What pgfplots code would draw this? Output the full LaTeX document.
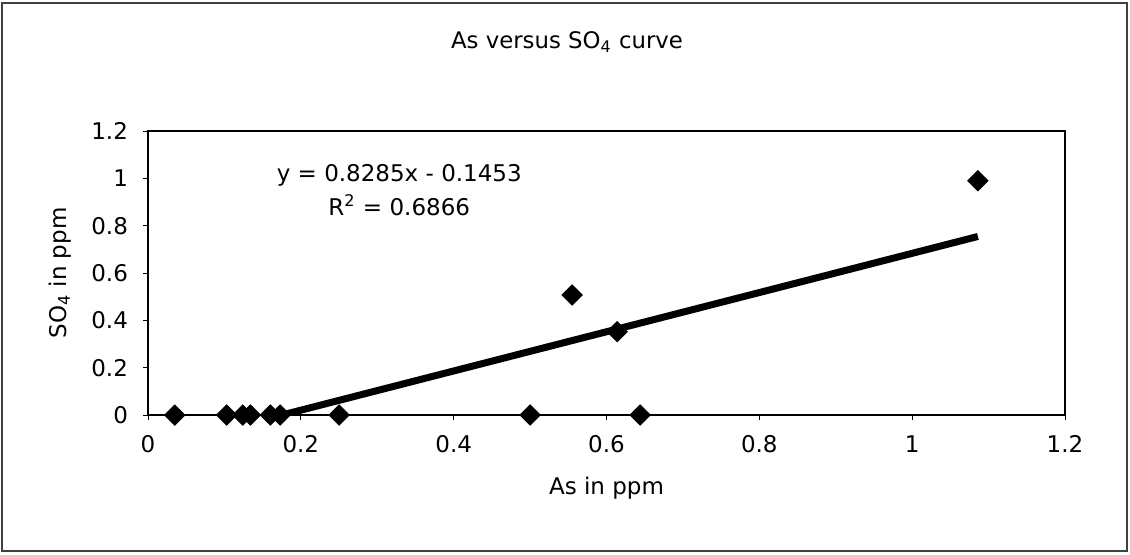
\documentclass[border=0pt]{standalone}
\usepackage{pgfplots}
\pgfplotsset{compat=1.18}
\usepackage{fontspec}
\setmainfont{DejaVu Sans}
\begin{document}
\begin{tikzpicture}
\path[use as bounding box] (0,0) rectangle (565pt,277pt);
\draw[black!75, line width=0.7pt] (1pt,1.5pt) rectangle (563.5pt,275.5pt);
\node[font=\fontsize{11.4}{13}\selectfont] at (283.5pt,256pt) {As versus SO\textsubscript{4} curve};
\begin{axis}[
  at={(74pt,69.5pt)}, anchor=south west,
  scale only axis, width=458.5pt, height=142pt,
  xmin=0, xmax=1.2, ymin=0, ymax=1.2,
  xtick={0,0.2,0.4,0.6,0.8,1,1.2},
  ytick={0,0.2,0.4,0.6,0.8,1,1.2},
  tick pos=left,
  tick align=outside, major tick length=2.5pt,
  tick style={black, line width=0.5pt},
  axis line style={line width=1pt},
  /pgf/number format/assume math mode=true,
  ticklabel style={font=\fontsize{11.5}{13}\selectfont, text height=8.5pt, text depth=0pt},
  xticklabel style={yshift=-4pt},
  yticklabel style={xshift=-4pt},
  label style={font=\fontsize{11.5}{13}\selectfont},
  xlabel={As in ppm},
  ylabel={SO\textsubscript{4} in ppm},
  xlabel style={at={(axis description cs:0.5,-0.257)}, anchor=center},
  ylabel style={at={(axis description cs:-0.096,0.5)}, anchor=center},
  clip=true,
]
\addplot[black, line width=3.5pt, no marks] coordinates {(0.035,-0.1163) (1.086,0.7544)};
\addplot[only marks, mark=square*, mark size=3.6pt, mark options={rotate=45, fill=black, draw=black}] coordinates {
(0.035,0) (0.103,0) (0.124,0) (0.134,0) (0.160,0) (0.173,0) (0.250,0) (0.500,0)
(0.555,0.507) (0.614,0.352) (0.644,0) (1.086,0.99)
};
\node[align=center, font=\fontsize{11.5}{17}\selectfont] at (axis description cs:0.274,0.792) {y = 0.8285x - 0.1453\\R\textsuperscript{2} = 0.6866};
\end{axis}
\end{tikzpicture}
\end{document}
